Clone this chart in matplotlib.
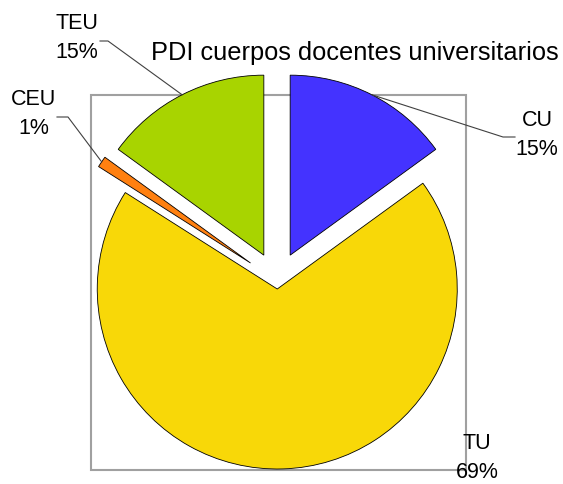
import matplotlib
matplotlib.use("Agg")
import matplotlib.pyplot as plt
from matplotlib.patches import Rectangle
import numpy as np

plt.rcParams['font.family'] = ['Liberation Sans', 'DejaVu Sans']

# datos
categorias = ["CU", "TU", "CEU", "TEU"]
porcentajes = [15, 69, 1, 15]
colores = ["#4433FF", "#F8D808", "#FF8010", "#A8D400"]
separacion = [29, 8, 32, 29]   # en pixeles (unidades de datos)
titulo = "PDI cuerpos docentes universitarios"

W, H = 563, 484
fig = plt.figure(figsize=(W / 100, H / 100), dpi=100)
ax = fig.add_axes([0, 0, 1, 1])

# marco gris del area de grafico
ax.add_patch(Rectangle((91, H - 470), 375, 375, fill=False,
                       edgecolor="#A0A0A0", lw=1.5, zorder=0))

radio = 180
centro = (277, H - 281)
wedges, _ = ax.pie(porcentajes, colors=colores, explode=separacion,
                   startangle=90, counterclock=False, radius=radio,
                   center=centro, frame=True,
                   wedgeprops=dict(edgecolor="black", linewidth=0.6))
ax.set_xlim(0, W)
ax.set_ylim(0, H)
ax.set_aspect("equal")
ax.axis("off")

# etiquetas (posicion del texto, extremo del codo)
pos_texto = {"CU": (537, H - 135), "TU": (477, H - 458),
             "CEU": (34, H - 114), "TEU": (77, H - 38)}
codo = {"CU": ((515, H - 137), (503, H - 137)),
        "CEU": ((57, H - 117), (68, H - 117)),
        "TEU": ((100, H - 41), (108, H - 41))}

for w, cat, p in zip(wedges, categorias, porcentajes):
    tx, ty = pos_texto[cat]
    ax.text(tx, ty, f"{cat}\n{p}%", ha="center", va="center",
            fontsize=15.5, linespacing=1.55, color="black")
    if cat in codo:
        ang = np.deg2rad((w.theta1 + w.theta2) / 2)
        cx, cy = w.center
        ex = cx + w.r * np.cos(ang)
        ey = cy + w.r * np.sin(ang)
        (x0, y0), (x1, y1) = codo[cat]
        ax.plot([x0, x1, ex], [y0, y1, ey], color="#404040", lw=0.8, zorder=3)

ax.text(355, H - 53, titulo, ha="center", va="center", fontsize=18.3,
        color="black")

fig.savefig("out.png", dpi=100)
